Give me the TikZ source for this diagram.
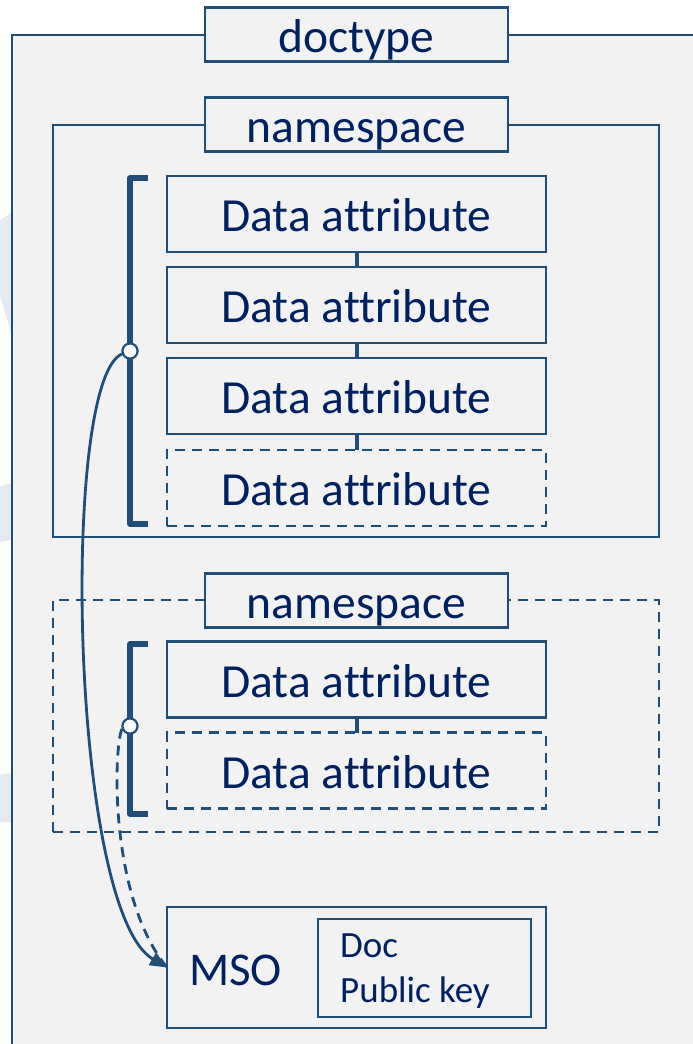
\documentclass[tikz,border=0pt]{standalone}
\usepackage{fontspec}
\setmainfont{Carlito}[Ligatures=NoCommon]
\usetikzlibrary{arrows.meta}
\definecolor{lineblue}{HTML}{1F4E79}
\definecolor{textblue}{HTML}{002060}
\definecolor{bgfill}{HTML}{F2F2F2}
\definecolor{faint}{HTML}{E5EAF2}
\begin{document}
\begin{tikzpicture}[x=1pt,y=-1pt,
  frame/.style={draw=lineblue, line width=2.8pt, inner sep=0pt, outer sep=0pt},
  box/.style={frame, fill=bgfill, text=textblue, font=\fontsize{47.5}{52}\selectfont, text height=36pt, text depth=1pt},
  labelbox/.style={box, minimum width=303pt, minimum height=54pt},
  attr/.style={box, minimum width=379pt, minimum height=76pt},
  dashedline/.style={dash pattern=on 10pt off 7pt},
  link/.style={draw=lineblue, line width=4pt},
  bracketline/.style={draw=lineblue, line width=5.5pt, line join=round},
  dot/.style={circle, draw=lineblue, fill=white, line width=2pt, minimum size=15pt, inner sep=0pt},
  flow/.style={draw=lineblue, line width=2.8pt},
  faintshape/.style={fill=faint, draw=none}
]
\useasboundingbox (0,0) rectangle (693,1044);
\clip (0,0) rectangle (693,1044);
\fill[white] (0,0) rectangle (693,1044);
% faint background shapes
\path[faintshape] (0,220) -- (11,213) -- (11,332) -- (0,296) -- cycle;
\path[faintshape] (0,487) -- (11,483) -- (11,540) -- (0,542) -- cycle;
\path[faintshape] (0,775) -- (11,773) -- (11,822) -- (0,822) -- cycle;
% doctype frame
\node[frame, fill=bgfill, minimum width=708pt, minimum height=1035pt] (docframe) at (366,552.5) {};
\node[labelbox] (doctype) at (356.5,34.5) {doctype};
% namespace 1
\node[frame, minimum width=606pt, minimum height=412pt] (ns1frame) at (356,331) {};
\node[labelbox] (ns1) at (356.5,124.5) {namespace};
\node[attr] (a1) at (356.5,214) {Data attribute};
\node[attr] (a2) at (356.5,305) {Data attribute};
\node[attr] (a3) at (356.5,396) {Data attribute};
\node[attr, dashedline] (a4) at (356.5,488) {Data attribute};
\draw[link] (a1.south) -- (a2.north);
\draw[link] (a2.south) -- (a3.north);
\draw[link] (a3.south) -- (a4.north);
% namespace 2
\node[frame, dashedline, minimum width=606pt, minimum height=232pt] (ns2frame) at (356,716) {};
\node[labelbox] (ns2) at (356.5,600.5) {namespace};
\node[attr] (b1) at (356.5,679.5) {Data attribute};
\node[attr, dashedline] (b2) at (356.5,770.5) {Data attribute};
\draw[link] (b1.south) -- (b2.north);
% MSO
\node[box, minimum width=379pt, minimum height=121pt] (mso) at (356.5,967.5) {};
\node[text=textblue, font=\fontsize{47}{50}\selectfont, anchor=base west, inner sep=0pt] (msotext) at (189,985) {MSO};
\node[box, minimum width=213pt, minimum height=98pt] (keys) at (424.5,968) {};
\node[text=textblue, font=\fontsize{37}{45}\selectfont, anchor=base west, inner sep=0pt] (doctext) at (340,957) {Doc};
\node[text=textblue, font=\fontsize{37}{45}\selectfont, anchor=base west, inner sep=0pt] (pktext) at (340,1002) {Public key};
% brackets
\coordinate (b1t) at (148,178);
\coordinate (b1b) at (148,524);
\draw[bracketline] (b1t) -- ++(-18,0) |- (b1b);
\coordinate (b2t) at (148,644);
\coordinate (b2b) at (148,814);
\draw[bracketline] (b2t) -- ++(-18,0) |- (b2b);
\node[dot] (c1) at (130,351) {};
\node[dot] (c2) at (130,726) {};
% flows
\draw[flow, dashedline] (c2.200) .. controls (114,745) and (108,895) .. (mso.west);
\draw[flow, -{Triangle[length=17pt,width=14pt]}] (c1.200) .. controls (60,380) and (70,910) .. (mso.west);
\node[dot] at (c1) {};
\node[dot] at (c2) {};
\end{tikzpicture}
\end{document}
